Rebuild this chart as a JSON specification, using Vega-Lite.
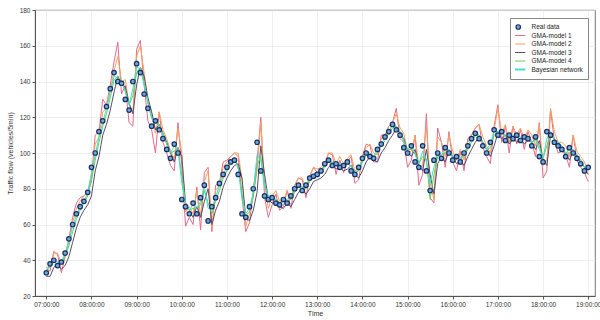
{
"$schema": "https://vega.github.io/schema/vega-lite/v6.json",
"width": 560, "height": 286,
"autosize": {"type": "none"},
"padding": {"left": 35, "top": 10, "right": 5, "bottom": 24},
"background": "white",
"config": {"font": "Liberation Sans", "view": {"stroke": "#555", "strokeWidth": 0.8},
  "axis": {"labelFontSize": 6.5, "titleFontSize": 7, "labelColor": "#333", "titleColor": "#333", "titleFontWeight": "normal", "domainColor": "#555", "tickColor": "#555", "tickSize": 3, "gridColor": "#e6e6e6", "gridWidth": 0.7, "labelOverlap": false}},
"data": {"values": [
{"m":420,"r":33,"a":35,"b":36,"c":31,"d":34,"e":34},
{"m":425,"r":38,"a":34,"b":36,"c":31,"d":36,"e":38},
{"m":430,"r":40,"a":45,"b":44,"c":36,"d":39,"e":40},
{"m":435,"r":37,"a":43,"b":44,"c":38,"d":38,"e":39},
{"m":440,"r":39,"a":33,"b":38,"c":35,"d":38,"e":39},
{"m":445,"r":44,"a":42,"b":43,"c":37,"d":42,"e":44},
{"m":450,"r":52,"a":52,"b":50,"c":42,"d":48,"e":51},
{"m":455,"r":60,"a":64,"b":61,"c":50,"d":56,"e":59},
{"m":460,"r":66,"a":72,"b":69,"c":58,"d":63,"e":65},
{"m":465,"r":70,"a":75,"b":73,"c":64,"d":68,"e":70},
{"m":470,"r":73,"a":76,"b":76,"c":68,"d":72,"e":73},
{"m":475,"r":78,"a":78,"b":78,"c":71,"d":76,"e":78},
{"m":480,"r":92,"a":86,"b":84,"c":76,"d":85,"e":89},
{"m":485,"r":100,"a":110,"b":105,"c":90,"d":96,"e":99},
{"m":490,"r":112,"a":112,"b":109,"c":98,"d":106,"e":109},
{"m":495,"r":118,"a":130,"b":123,"c":110,"d":115,"e":117},
{"m":500,"r":126,"a":127,"b":125,"c":116,"d":122,"e":125},
{"m":505,"r":136,"a":138,"b":135,"c":124,"d":131,"e":134},
{"m":510,"r":145,"a":151,"b":146,"c":134,"d":141,"e":143},
{"m":515,"r":140,"a":162,"b":154,"c":143,"d":143,"e":142},
{"m":520,"r":139,"a":133,"b":140,"c":138,"d":140,"e":140},
{"m":525,"r":130,"a":138,"b":141,"c":137,"d":135,"e":134},
{"m":530,"r":124,"a":117,"b":127,"c":128,"d":127,"e":127},
{"m":535,"r":140,"a":115,"b":123,"c":122,"d":132,"e":136},
{"m":540,"r":150,"a":158,"b":154,"c":138,"d":145,"e":148},
{"m":545,"r":145,"a":163,"b":160,"c":148,"d":148,"e":147},
{"m":550,"r":133,"a":138,"b":145,"c":143,"d":139,"e":138},
{"m":555,"r":125,"a":118,"b":128,"c":131,"d":129,"e":128},
{"m":560,"r":115,"a":113,"b":122,"c":123,"d":120,"e":119},
{"m":565,"r":118,"a":100,"b":111,"c":113,"d":117,"e":118},
{"m":570,"r":113,"a":123,"b":123,"c":116,"d":116,"e":115},
{"m":575,"r":108,"a":106,"b":113,"c":111,"d":111,"e":110},
{"m":580,"r":102,"a":100,"b":108,"c":106,"d":105,"e":105},
{"m":585,"r":97,"a":93,"b":101,"c":100,"d":100,"e":100},
{"m":590,"r":105,"a":90,"b":97,"c":95,"d":101,"e":104},
{"m":595,"r":100,"a":117,"b":114,"c":103,"d":103,"e":102},
{"m":600,"r":74,"a":93,"b":100,"c":98,"d":87,"e":83},
{"m":605,"r":70,"a":59,"b":67,"c":72,"d":72,"e":72},
{"m":610,"r":66,"a":64,"b":70,"c":68,"d":68,"e":68},
{"m":615,"r":72,"a":60,"b":66,"c":64,"d":69,"e":71},
{"m":620,"r":66,"a":81,"b":79,"c":70,"d":69,"e":69},
{"m":625,"r":75,"a":57,"b":65,"c":64,"d":71,"e":73},
{"m":630,"r":82,"a":89,"b":84,"c":73,"d":79,"e":81},
{"m":635,"r":62,"a":92,"b":90,"c":80,"d":72,"e":69},
{"m":640,"r":70,"a":56,"b":58,"c":60,"d":66,"e":69},
{"m":645,"r":75,"a":82,"b":79,"c":68,"d":73,"e":75},
{"m":650,"r":83,"a":83,"b":82,"c":73,"d":79,"e":82},
{"m":655,"r":88,"a":95,"b":92,"c":81,"d":86,"e":88},
{"m":660,"r":92,"a":96,"b":95,"c":86,"d":90,"e":92},
{"m":665,"r":95,"a":98,"b":98,"c":90,"d":94,"e":95},
{"m":670,"r":96,"a":100,"b":100,"c":93,"d":96,"e":97},
{"m":675,"r":88,"a":98,"b":100,"c":94,"d":92,"e":91},
{"m":680,"r":66,"a":76,"b":85,"c":86,"d":77,"e":74},
{"m":685,"r":64,"a":56,"b":59,"c":64,"d":65,"e":66},
{"m":690,"r":70,"a":61,"b":66,"c":62,"d":67,"e":69},
{"m":695,"r":80,"a":79,"b":77,"c":68,"d":75,"e":78},
{"m":700,"r":106,"a":95,"b":90,"c":78,"d":93,"e":99},
{"m":705,"r":90,"a":120,"b":117,"c":104,"d":98,"e":96},
{"m":710,"r":76,"a":75,"b":83,"c":88,"d":83,"e":81},
{"m":715,"r":74,"a":64,"b":69,"c":74,"d":75,"e":76},
{"m":720,"r":75,"a":71,"b":76,"c":72,"d":75,"e":76},
{"m":725,"r":72,"a":77,"b":79,"c":73,"d":74,"e":74},
{"m":730,"r":71,"a":68,"b":73,"c":70,"d":72,"e":72},
{"m":735,"r":74,"a":70,"b":73,"c":69,"d":73,"e":74},
{"m":740,"r":72,"a":79,"b":79,"c":72,"d":73,"e":74},
{"m":745,"r":76,"a":69,"b":74,"c":70,"d":74,"e":76},
{"m":750,"r":80,"a":82,"b":82,"c":74,"d":78,"e":80},
{"m":755,"r":82,"a":86,"b":86,"c":78,"d":81,"e":82},
{"m":760,"r":79,"a":85,"b":86,"c":80,"d":81,"e":81},
{"m":765,"r":82,"a":75,"b":80,"c":77,"d":80,"e":82},
{"m":770,"r":86,"a":87,"b":87,"c":80,"d":84,"e":86},
{"m":775,"r":87,"a":92,"b":92,"c":84,"d":87,"e":88},
{"m":780,"r":88,"a":89,"b":91,"c":85,"d":88,"e":89},
{"m":785,"r":90,"a":90,"b":92,"c":86,"d":89,"e":90},
{"m":790,"r":94,"a":93,"b":94,"c":88,"d":92,"e":94},
{"m":795,"r":96,"a":100,"b":100,"c":92,"d":95,"e":96},
{"m":800,"r":93,"a":99,"b":100,"c":94,"d":95,"e":95},
{"m":805,"r":94,"a":88,"b":94,"c":91,"d":94,"e":95},
{"m":810,"r":92,"a":96,"b":98,"c":92,"d":93,"e":94},
{"m":815,"r":93,"a":89,"b":94,"c":90,"d":93,"e":94},
{"m":820,"r":95,"a":95,"b":97,"c":91,"d":94,"e":95},
{"m":825,"r":90,"a":98,"b":99,"c":93,"d":93,"e":92},
{"m":830,"r":88,"a":83,"b":90,"c":88,"d":89,"e":90},
{"m":835,"r":92,"a":85,"b":90,"c":86,"d":90,"e":92},
{"m":840,"r":97,"a":98,"b":98,"c":90,"d":95,"e":96},
{"m":845,"r":100,"a":105,"b":103,"c":95,"d":99,"e":100},
{"m":850,"r":98,"a":104,"b":105,"c":98,"d":99,"e":100},
{"m":855,"r":97,"a":95,"b":100,"c":96,"d":98,"e":98},
{"m":860,"r":102,"a":95,"b":99,"c":95,"d":100,"e":102},
{"m":865,"r":105,"a":110,"b":108,"c":100,"d":104,"e":105},
{"m":870,"r":109,"a":110,"b":110,"c":103,"d":107,"e":109},
{"m":875,"r":112,"a":115,"b":115,"c":107,"d":111,"e":112},
{"m":880,"r":116,"a":117,"b":117,"c":110,"d":114,"e":116},
{"m":885,"r":113,"a":125,"b":122,"c":114,"d":115,"e":115},
{"m":890,"r":110,"a":108,"b":114,"c":111,"d":112,"e":112},
{"m":895,"r":103,"a":106,"b":111,"c":108,"d":107,"e":106},
{"m":900,"r":100,"a":92,"b":101,"c":101,"d":102,"e":102},
{"m":905,"r":104,"a":96,"b":101,"c":98,"d":102,"e":104},
{"m":910,"r":95,"a":110,"b":110,"c":102,"d":100,"e":99},
{"m":915,"r":92,"a":82,"b":92,"c":93,"d":94,"e":94},
{"m":920,"r":104,"a":88,"b":93,"c":90,"d":98,"e":101},
{"m":925,"r":90,"a":122,"b":115,"c":102,"d":97,"e":95},
{"m":930,"r":79,"a":75,"b":83,"c":88,"d":74,"e":83},
{"m":935,"r":96,"a":72,"b":74,"c":77,"d":88,"e":92},
{"m":940,"r":100,"a":114,"b":109,"c":94,"d":98,"e":100},
{"m":945,"r":97,"a":106,"b":106,"c":98,"d":99,"e":99},
{"m":950,"r":103,"a":92,"b":98,"c":95,"d":100,"e":102},
{"m":955,"r":100,"a":112,"b":110,"c":101,"d":102,"e":102},
{"m":960,"r":96,"a":95,"b":101,"c":98,"d":98,"e":98},
{"m":965,"r":98,"a":90,"b":96,"c":94,"d":97,"e":98},
{"m":970,"r":95,"a":101,"b":102,"c":96,"d":97,"e":97},
{"m":975,"r":100,"a":90,"b":96,"c":93,"d":98,"e":100},
{"m":980,"r":104,"a":108,"b":106,"c":98,"d":102,"e":104},
{"m":985,"r":108,"a":110,"b":110,"c":102,"d":106,"e":108},
{"m":990,"r":111,"a":114,"b":114,"c":106,"d":110,"e":111},
{"m":995,"r":108,"a":116,"b":116,"c":109,"d":110,"e":110},
{"m":1000,"r":104,"a":103,"b":109,"c":106,"d":106,"e":106},
{"m":1005,"r":100,"a":98,"b":104,"c":102,"d":102,"e":102},
{"m":1010,"r":106,"a":94,"b":100,"c":98,"d":103,"e":105},
{"m":1015,"r":113,"a":115,"b":113,"c":104,"d":110,"e":112},
{"m":1020,"r":110,"a":127,"b":125,"c":111,"d":112,"e":112},
{"m":1025,"r":112,"a":106,"b":111,"c":108,"d":111,"e":112},
{"m":1030,"r":107,"a":115,"b":116,"c":110,"d":110,"e":110},
{"m":1035,"r":110,"a":100,"b":106,"c":105,"d":108,"e":110},
{"m":1040,"r":108,"a":115,"b":115,"c":108,"d":109,"e":110},
{"m":1045,"r":110,"a":105,"b":110,"c":106,"d":109,"e":110},
{"m":1050,"r":107,"a":113,"b":114,"c":108,"d":108,"e":109},
{"m":1055,"r":109,"a":102,"b":108,"c":105,"d":108,"e":109},
{"m":1060,"r":108,"a":112,"b":113,"c":107,"d":108,"e":109},
{"m":1065,"r":104,"a":106,"b":110,"c":106,"d":106,"e":106},
{"m":1070,"r":109,"a":98,"b":104,"c":102,"d":107,"e":108},
{"m":1075,"r":98,"a":117,"b":116,"c":107,"d":104,"e":102},
{"m":1080,"r":95,"a":86,"b":93,"c":96,"d":97,"e":97},
{"m":1085,"r":112,"a":90,"b":96,"c":93,"d":104,"e":108},
{"m":1090,"r":110,"a":124,"b":125,"c":110,"d":111,"e":112},
{"m":1095,"r":106,"a":107,"b":112,"c":108,"d":108,"e":108},
{"m":1100,"r":104,"a":100,"b":106,"c":104,"d":105,"e":106},
{"m":1105,"r":102,"a":101,"b":106,"c":102,"d":103,"e":104},
{"m":1110,"r":98,"a":99,"b":104,"c":100,"d":100,"e":100},
{"m":1115,"r":103,"a":92,"b":98,"c":96,"d":100,"e":102},
{"m":1120,"r":100,"a":110,"b":110,"c":101,"d":102,"e":102},
{"m":1125,"r":97,"a":96,"b":101,"c":98,"d":99,"e":99},
{"m":1130,"r":94,"a":92,"b":98,"c":95,"d":96,"e":96},
{"m":1135,"r":90,"a":89,"b":95,"c":92,"d":92,"e":92},
{"m":1140,"r":92,"a":84,"b":90,"c":88,"d":91,"e":92}
]},
"layer": [
 {"transform": [{"fold": ["a", "b", "c", "d", "e"], "as": ["k", "v"]}],
  "mark": {"type": "line", "strokeWidth": 1},
  "encoding": {
   "x": {"field": "m", "type": "quantitative",
     "scale": {"domain": [405, 1149], "nice": false, "zero": false},
     "axis": {"title": "Time", "values": [420, 480, 540, 600, 660, 720, 780, 840, 900, 960, 1020, 1080, 1140], "labelExpr": "(datum.value < 600 ? '0' : '') + (datum.value / 60) + ':00:00'", "grid": true, "labelPadding": 2, "titlePadding": 2, "labelFlush": false}},
   "y": {"field": "v", "type": "quantitative",
     "scale": {"domain": [20, 180], "nice": false},
     "axis": {"title": "Traffic flow (vehicles/5min)", "values": [20, 40, 60, 80, 100, 120, 140, 160, 180], "tickCount": 9, "labelOverlap": false, "grid": true, "labelPadding": 2, "titlePadding": 6}},
   "color": {"field": "k", "type": "nominal",
     "scale": {"domain": ["r", "a", "b", "c", "d", "e"], "range": ["#1b2f5e", "#e66a8a", "#f2a35e", "#5a4e6b", "#5fcf5f", "#3fe0d0"]},
     "legend": {"title": null, "orient": "none", "legendX": 475, "legendY": 8, "fillColor": "white", "strokeColor": "#888", "padding": 5, "labelFontSize": 6.5, "labelColor": "#222", "labelOffset": 10, "rowPadding": 0.5, "clipHeight": 8, "symbolType": "stroke", "symbolSize": 200, "symbolStrokeWidth": 1,
       "labelExpr": "datum.label === 'r' ? 'Real data' : datum.label === 'a' ? 'GMA-model 1' : datum.label === 'b' ? 'GMA-model 2' : datum.label === 'c' ? 'GMA-model 3' : datum.label === 'd' ? 'GMA-model 4' : 'Bayesian network'",
       "encode": {"symbols": {"update": {
         "shape": {"signal": "datum.value === 'r' ? 'circle' : 'stroke'"},
         "size": {"signal": "datum.value === 'r' ? 20 : 200"},
         "fill": {"signal": "datum.value === 'r' ? '#6fa8dc' : 'transparent'"},
         "strokeWidth": {"signal": "datum.value === 'e' ? 2 : 1.2"}}}}}},
   "strokeWidth": {"condition": {"test": "datum.k === 'e'", "value": 1.8}, "value": 1}
  }},
 {"mark": {"type": "point", "filled": false, "fill": "#6fa8dc", "size": 20, "strokeWidth": 1.2, "opacity": 1},
  "encoding": {
   "x": {"field": "m", "type": "quantitative"},
   "y": {"field": "r", "type": "quantitative", "axis": {"title": "Traffic flow (vehicles/5min)", "values": [20, 40, 60, 80, 100, 120, 140, 160, 180], "tickCount": 9, "labelOverlap": false, "grid": true, "labelPadding": 2, "titlePadding": 6}},
   "color": {"datum": "r", "type": "nominal"}
  }}
]
}
